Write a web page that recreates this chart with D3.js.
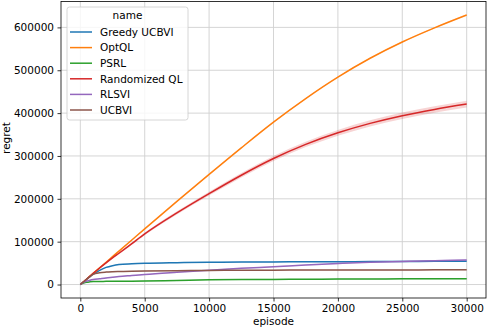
<!DOCTYPE html>
<html>
<head>
<meta charset="utf-8">
<title>regret vs episode</title>
<script src="https://d3js.org/d3.v7.min.js"></script>
<style>
body{margin:0;background:#fff;}
svg text{font-family:"DejaVu Sans",sans-serif;font-size:10.5px;fill:#000;}
.grid line{stroke:#d0d0d0;stroke-width:0.9;}
</style>
</head>
<body>
<svg class="chart" width="488" height="330"></svg>
<script>
var episodes=[0,250,500,750,1000,1500,2000,2500,3000,4000,5000,7500,10000,12500,15000,17500,20000,22500,25000,27500,30000];

var names=['Greedy UCBVI','OptQL','PSRL','Randomized QL','RLSVI','UCBVI'];
var colors=['#1f77b4','#ff7f0e','#2ca02c','#d62728','#9467bd','#8c564b'];

var greedyUCBVI=[0,6200,12500,18500,24000,33000,40000,44000,46500,48300,49500,51000,52000,52500,52800,53000,53200,53500,53800,54200,54600];
var optQL=[0,6500,13000,19500,26000,39000,52000,65000,78000,104000,130000,194000,257000,319000,379000,434000,484000,528000,566000,599000,629000];
var psrl=[0,3500,5500,6300,6800,7200,7400,7600,7700,7900,8200,9600,11000,11500,11900,12300,12600,12900,13200,13400,13600];
var randomizedQL=[0,6500,13000,19500,26000,38500,50500,62000,73000,95500,118000,167000,212000,255000,294000,327000,354000,376000,394000,408500,421000];
var rlsvi=[0,5000,8000,10000,11500,13500,15500,17000,18500,21000,23500,28700,33500,37800,41500,45500,49000,52000,54000,55700,57200];
var ucbvi=[0,6200,12500,18500,24000,27500,29000,29800,30300,31000,31600,32400,33000,33300,33500,33700,33900,34000,34100,34200,34400];

// half width of the shaded band around each curve
var bandSmall=[0,300,500,600,700,800,900,900,1000,1000,1000,1100,1200,1200,1300,1300,1400,1400,1500,1500,1500];
var bandRQL=[0,300,600,800,1000,1300,1600,1900,2100,2500,3000,3800,4500,5100,5700,6200,6700,7100,7500,7800,8000];

var series=[greedyUCBVI,optQL,psrl,randomizedQL,rlsvi,ucbvi];
var bands=[bandSmall,bandSmall,bandSmall,bandRQL,bandSmall,bandSmall];

var xTicks=[0,5000,10000,15000,20000,25000,30000];
var yTicks=[0,100000,200000,300000,400000,500000,600000];

var margin={left:61,right:2,top:1.5,bottom:32};
var width=488,height=330;

var svg=d3.select('.chart');

var x=d3.scaleLinear().domain([-1500,31500]).range([margin.left,width-margin.right]);
var y=d3.scaleLinear().domain([-31450,660450]).range([height-margin.bottom,margin.top]);

// grid
var grid=svg.append('g').attr('class','grid');
grid.selectAll('line.v').data(xTicks).enter().append('line')
	.attr('x1',function(d){return x(d);}).attr('x2',function(d){return x(d);})
	.attr('y1',margin.top).attr('y2',height-margin.bottom);
grid.selectAll('line.h').data(yTicks).enter().append('line')
	.attr('y1',function(d){return y(d);}).attr('y2',function(d){return y(d);})
	.attr('x1',margin.left).attr('x2',width-margin.right);

var rows=series.map(function(s,i){
	return episodes.map(function(e,j){return {x:e,y:s[j],b:bands[i][j]};});
});

var area=d3.area().curve(d3.curveMonotoneX)
	.x(function(d){return x(d.x);})
	.y0(function(d){return y(d.y-d.b);})
	.y1(function(d){return y(d.y+d.b);});
var line=d3.line().curve(d3.curveMonotoneX)
	.x(function(d){return x(d.x);})
	.y(function(d){return y(d.y);});

svg.append('g').selectAll('path').data(rows).enter().append('path')
	.attr('d',area)
	.attr('fill',function(d,i){return colors[i];})
	.attr('fill-opacity',0.2);

svg.append('g').selectAll('path').data(rows).enter().append('path')
	.attr('d',line)
	.attr('fill','none')
	.attr('stroke',function(d,i){return colors[i];})
	.attr('stroke-width',1.5);

// axes
var xAxis=d3.axisBottom(x).tickValues(xTicks).tickSizeOuter(0).tickSize(3.5).tickPadding(3.5).tickFormat(d3.format('d'));
var yAxis=d3.axisLeft(y).tickValues(yTicks).tickSizeOuter(0).tickSize(3.5).tickPadding(3.5).tickFormat(d3.format('d'));

var gx=svg.append('g').attr('transform','translate(0,'+(height-margin.bottom)+')').call(xAxis);
var gy=svg.append('g').attr('transform','translate('+margin.left+',0)').call(yAxis);
[gx,gy].forEach(function(g){
	g.select('.domain').remove();
	g.selectAll('line').attr('stroke','#000').attr('stroke-width',0.8);
	g.selectAll('text').attr('font-family','DejaVu Sans').attr('font-size','10.5px').attr('fill','#000');
});
gx.selectAll('text').attr('dy','0.66em');

// frame
svg.append('rect')
	.attr('x',margin.left).attr('y',margin.top)
	.attr('width',width-margin.right-margin.left)
	.attr('height',height-margin.bottom-margin.top)
	.attr('fill','none').attr('stroke','#000').attr('stroke-width',0.8);

svg.append('text').attr('x',(margin.left+width-margin.right)/2).attr('y',325)
	.attr('text-anchor','middle').text('episode');
svg.append('text').attr('transform','translate(10,138) rotate(-90)')
	.attr('text-anchor','middle').text('regret');

// legend
var legend=svg.append('g');
legend.append('rect').attr('x',67).attr('y',7).attr('width',121).attr('height',113)
	.attr('rx',2.5).attr('fill','#fff').attr('fill-opacity',0.8)
	.attr('stroke','#cccccc').attr('stroke-width',0.8);
legend.append('text').attr('x',127.5).attr('y',19).attr('text-anchor','middle').text('name');
var items=legend.selectAll('g.item').data(names).enter().append('g')
	.attr('transform',function(d,i){return 'translate(0,'+(32+i*15.6)+')';});
items.append('line').attr('x1',70).attr('x2',92).attr('y1',0).attr('y2',0)
	.attr('stroke',function(d,i){return colors[i];}).attr('stroke-width',1.5);
items.append('text').attr('x',100).attr('y',3.8).text(function(d){return d;});
</script>
</body>
</html>
